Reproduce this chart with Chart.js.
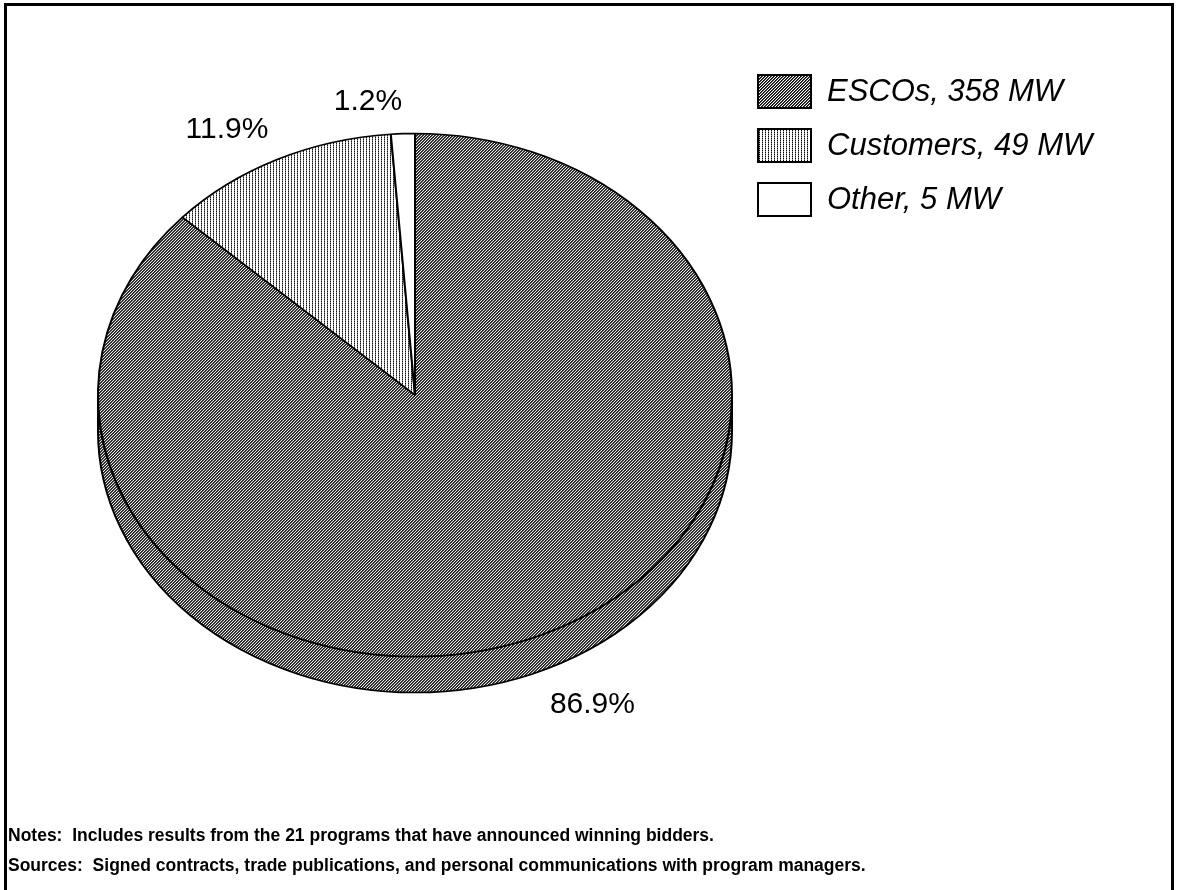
<!DOCTYPE html>
<html>
<head>
<meta charset="utf-8">
<script src="https://cdn.jsdelivr.net/npm/chart.js@4.4.1/dist/chart.umd.min.js"></script>
<style>
  html, body { margin: 0; padding: 0; background: #fff; }
  body { width: 1177px; height: 890px; overflow: hidden; position: relative; font-family: "Liberation Sans", Arial, sans-serif; }
  #frame { position: absolute; left: 4px; top: 3px; width: 1170px; height: 910px; border: 3px solid #000; box-sizing: border-box; }
  #wrap { position: absolute; left: 0; top: 0; width: 1177px; height: 890px; }
  .legend { position: absolute; left: 757px; top: 64px; }
  .legend-item { display: flex; align-items: center; height: 54px; }
  .swatch { width: 55px; height: 35px; border: 2px solid #000; box-sizing: border-box; background: #fff; }
  .legend-text { margin-left: 15px; font-style: italic; font-size: 31px; color: #000; white-space: nowrap; }
  .notes { position: absolute; left: 8px; font-weight: bold; font-size: 17.5px; color: #000; white-space: nowrap; }
</style>
</head>
<body>
<div id="frame"></div>
<div id="wrap"><canvas id="chart-share" width="1177" height="890"></canvas></div>
<div class="legend" id="legend"></div>
<div class="notes" style="top: 825px;">Notes:&nbsp; Includes results from the 21 programs that have announced winning bidders.</div>
<div class="notes" style="top: 855px;">Sources:&nbsp; Signed contracts, trade publications, and personal communications with program managers.</div>
<script>
const CATEGORIES = ['ESCOs', 'Customers', 'Other'];
const CAPACITY_MW = [358, 49, 5];

// tilt of the pie and height of its side wall
const TILT = 0.825;
const DEPTH = 36;

function makeTile(w, h, paint) {
  const c = document.createElement('canvas');
  c.width = w; c.height = h;
  const g = c.getContext('2d');
  g.fillStyle = '#fff';
  g.fillRect(0, 0, w, h);
  paint(g);
  return c;
}

const hatch = makeTile(3, 3, (g) => {
  for (let y = 0; y < 3; y++) {
    g.fillStyle = '#000';
    g.fillRect((2 - y + 3) % 3, y, 1, 1);
    g.fillStyle = '#505050';
    g.fillRect((3 - y) % 3, y, 1, 1);
  }
});
const dots = makeTile(3, 2, (g) => {
  g.fillStyle = '#000';
  g.fillRect(0, 0, 1, 1);
  g.fillStyle = '#909090';
  g.fillRect(0, 1, 1, 1);
});
const blank = makeTile(2, 2, () => {});
const TILES = [hatch, dots, blank];

const ctx0 = document.getElementById('chart-share').getContext('2d');
const fills = TILES.map((t) => {
  const p = ctx0.createPattern(t, 'repeat');
  p.setTransform(new DOMMatrix([1, 0, 0, 1 / TILT, 0, 0]));
  return p;
});

// legend
const legend = document.getElementById('legend');
CATEGORIES.forEach((cat, i) => {
  const item = document.createElement('div');
  item.className = 'legend-item';
  item.innerHTML = `<div class="swatch" style="background-image:url(${TILES[i].toDataURL()})"></div>` +
    `<span class="legend-text">${cat}, ${CAPACITY_MW[i]} MW</span>`;
  legend.appendChild(item);
});

function squash(ctx, x, y) {
  ctx.translate(x, y);
  ctx.scale(1, TILT);
  ctx.translate(-x, -y);
}

const pie3d = {
  id: 'pie3d',
  beforeDatasetsDraw(chart) {
    const ctx = chart.ctx;
    const arcs = chart.getDatasetMeta(0).data;
    const { x, y } = arcs[0];
    ctx.save();
    squash(ctx, x, y);
    const drop = DEPTH / TILT;
    arcs.forEach((arc, i) => {
      const { startAngle, endAngle, outerRadius } = arc;
      const a = Math.max(startAngle, 0);
      const b = Math.min(endAngle, Math.PI);
      if (a >= b) return;
      ctx.beginPath();
      ctx.arc(x, y, outerRadius, a, b);
      ctx.arc(x, y + drop, outerRadius, b, a, true);
      ctx.closePath();
      ctx.fillStyle = fills[i];
      ctx.fill();
      ctx.lineWidth = 2;
      ctx.strokeStyle = '#000';
      ctx.stroke();
    });
    ctx.restore();
    ctx.save();
    squash(ctx, x, y);
  },
  afterDatasetsDraw(chart) {
    const ctx = chart.ctx;
    ctx.restore();
    const data = chart.data.datasets[0].data;
    const total = data.reduce((s, v) => s + v, 0);
    const arcs = chart.getDatasetMeta(0).data;
    ctx.save();
    ctx.fillStyle = '#000';
    ctx.font = '30px "Liberation Sans", Arial, sans-serif';
    arcs.forEach((arc, i) => {
      const mid = (arc.startAngle + arc.endAngle) / 2;
      const r = arc.outerRadius + 20;
      const c = Math.cos(mid), s = Math.sin(mid);
      const px = arc.x + r * c;
      const py = arc.y + r * s * TILT + (s > 0 ? DEPTH + 4 : 0);
      ctx.textAlign = c < 0 ? 'right' : 'left';
      ctx.textBaseline = s < 0 ? 'bottom' : 'top';
      ctx.fillText((data[i] / total * 100).toFixed(1) + '%', px, py);
    });
    ctx.restore();
  },
};

new Chart(document.getElementById('chart-share'), {
  type: 'pie',
  data: {
    labels: CATEGORIES,
    datasets: [{
      data: CAPACITY_MW,
      backgroundColor: fills,
      borderColor: '#000',
      borderWidth: 2,
    }],
  },
  options: {
    responsive: false,
    animation: false,
    events: [],
    layout: { padding: { left: 97, right: 444, top: 77, bottom: 177 } },
    plugins: {
      legend: { display: false },
      tooltip: { enabled: false },
    },
  },
  plugins: [pie3d],
});
</script>
</body>
</html>
